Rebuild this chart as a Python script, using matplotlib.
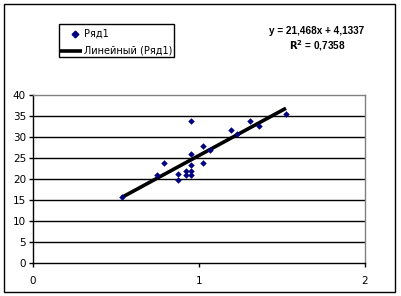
import numpy as np
import matplotlib as mpl
import matplotlib.pyplot as plt
from matplotlib.patches import Rectangle
from matplotlib.lines import Line2D

# data
x_vals = [0.534, 0.745, 0.789, 0.875, 0.875, 0.919, 0.919, 0.954, 0.954, 0.954,
          0.954, 0.954, 1.026, 1.026, 1.066, 1.190, 1.227, 1.307, 1.361, 1.524]
y_vals = [15.6, 21.0, 23.9, 21.3, 19.8, 21.9, 20.9, 33.9, 26.0, 23.3,
          22.0, 20.9, 27.9, 23.7, 26.9, 31.7, 30.7, 33.9, 32.7, 35.4]
slope, intercept = 21.468, 4.1337
eq_text = 'y = 21,468x + 4,1337'
r2_text = '0,7358'
series_name = 'Ряд1'
trend_name = 'Линейный (Ряд1)'
x_ticks = [0, 1, 2]
y_ticks = [0, 5, 10, 15, 20, 25, 30, 35, 40]

W, H = 401, 296
mpl.rcParams['font.family'] = 'DejaVu Sans'
mpl.rcParams['font.size'] = 7.5

def fx(px):
    return px / W

def fy(py):
    return 1 - py / H

fig = plt.figure(figsize=(W / 100, H / 100), dpi=100)
fig.patch.set_facecolor('white')

# outer chart border
fig.patches.append(Rectangle((fx(4), fy(292)), 391 / W, 288 / H,
                             transform=fig.transFigure, fill=False,
                             edgecolor='black', linewidth=1))

ax = fig.add_axes([fx(33), fy(263), 332 / W, 168 / H])
ax.set_xlim(0, 2)
ax.set_ylim(0, 40)

for v in y_ticks[1:-1]:
    ax.axhline(v, color='black', linewidth=1, zorder=1)

ax.spines['top'].set_color('gray')
ax.spines['right'].set_color('gray')
for s in ['left', 'bottom']:
    ax.spines[s].set_color('black')
for s in ax.spines.values():
    s.set_linewidth(1)

ax.set_xticks(x_ticks)
ax.set_yticks(y_ticks)
ax.tick_params(direction='out', length=3, width=1, pad=2)
ax.tick_params(axis='x', pad=6)

# trend line between min and max x
xs = np.array([min(x_vals), max(x_vals)])
ax.plot(xs, slope * xs + intercept, color='black', linewidth=2.6, zorder=2,
        solid_capstyle='butt')
ax.scatter(x_vals, y_vals, marker='D', s=11, color='#000080', zorder=3,
           linewidths=0)

# legend, drawn by hand so the box matches
fig.patches.append(Rectangle((fx(59), fy(57)), 115 / W, 33 / H,
                             transform=fig.transFigure, facecolor='white',
                             edgecolor='black', linewidth=1))
fig.lines.append(Line2D([fx(75)], [fy(34)], transform=fig.transFigure,
                        marker='D', markersize=3.4, color='#000080',
                        linestyle='none'))
fig.lines.append(Line2D([fx(60), fx(82)], [fy(50.5), fy(50.5)],
                        transform=fig.transFigure, color='black',
                        linewidth=2.6, solid_capstyle='butt'))
fig.text(fx(84), fy(34), series_name, ha='left', va='center', fontsize=7)
fig.text(fx(84), fy(50.5), trend_name, ha='left', va='center', fontsize=7)

# equation
fig.text(fx(317), fy(31), eq_text,
         ha='center', va='center', fontsize=7.2, fontweight='bold',
         family='Liberation Sans')
fig.text(fx(317), fy(46), '$\\mathbf{R^2}$ = %s' % r2_text,
         ha='center', va='center', fontsize=7.2, fontweight='bold',
         family='Liberation Sans')

fig.savefig('out.png', dpi=100, facecolor='white')
